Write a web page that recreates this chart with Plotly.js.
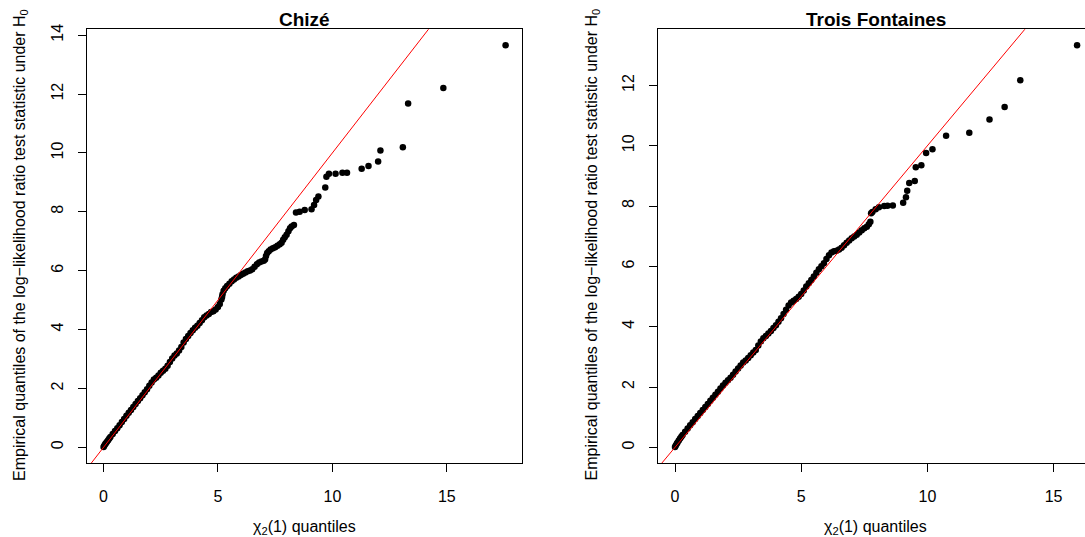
<!DOCTYPE html>
<html>
<head>
<meta charset="utf-8">
<script src="https://cdn.plot.ly/plotly-3.0.1.min.js"></script>
<style>
  html, body { margin: 0; padding: 0; background: #ffffff; overflow: hidden; }
  #chart { width: 1085px; height: 537px; }
</style>
</head>
<body>
<div id="chart"></div>
<script>
// ---------- data ----------
const panelTitles = ["Chizé", "Trois Fontaines"];
const xAxisTitle = "χ<sub>2</sub>(1) quantiles";
const yAxisTitle = "Empirical quantiles of the log−likelihood ratio test statistic under H<sub>0</sub>";
const xTickVals = [0, 5, 10, 15];
const yTickValsChize = [0, 2, 4, 6, 8, 10, 12, 14];
const yTickValsTrois = [0, 2, 4, 6, 8, 10, 12];
const identityLine = [-1, 20];

// Chizé: theoretical chi2(1) quantiles vs empirical quantiles
const chizeTheoretical = [
  0.00,0.03,0.07,0.10,0.15,0.20,0.25,0.30,
  0.40,0.50,0.60,0.70,0.80,0.90,1.00,1.10,1.20,1.30,1.40,1.50,1.60,1.70,1.80,1.90,
  2.00,2.10,2.20,2.30,2.40,2.50,2.60,2.70,2.80,2.90,3.00,3.10,3.20,3.30,3.40,3.50,
  3.60,3.70,3.80,3.90,4.00,4.10,4.20,4.30,4.40,4.50,4.60,4.70,4.80,4.90,5.00,
  5.08,5.15,5.18,5.20,5.25,5.32,
  5.40,5.50,5.60,5.70,5.80,5.90,6.00,6.10,6.20,6.30,6.40,6.50,6.60,6.70,6.80,6.90,7.00,
  7.06,7.10,7.15,7.22,
  7.30,7.40,7.50,7.60,7.70,
  7.78,7.85,7.92,8.00,8.08,8.15,8.22,8.32,
  8.41,8.57,8.79,9.09,9.20,9.29,9.39,9.69,9.74,9.85,10.14,10.44,10.64,11.28,11.58,12.00,12.10,13.08,13.31,14.85,17.57
];
const chizeEmpirical = [
  0.01,0.05,0.10,0.14,0.19,0.24,0.30,0.35,
  0.45,0.55,0.65,0.75,0.86,0.96,1.07,1.17,1.27,1.37,1.47,1.57,1.67,1.77,1.87,1.97,
  2.09,2.20,2.30,2.36,2.44,2.53,2.60,2.67,2.77,2.90,3.02,3.12,3.19,3.29,3.41,3.56,
  3.68,3.78,3.88,3.98,4.06,4.13,4.22,4.32,4.42,4.48,4.53,4.60,4.62,4.68,4.77,
  4.87,5.02,5.11,5.20,5.32,5.40,
  5.48,5.56,5.64,5.70,5.76,5.80,5.85,5.90,5.94,5.98,6.01,6.05,6.13,6.22,6.28,6.31,6.34,
  6.38,6.50,6.60,6.66,
  6.72,6.76,6.80,6.85,6.90,
  6.95,7.05,7.14,7.22,7.34,7.44,7.50,7.55,
  7.98,8.00,8.06,8.09,8.23,8.40,8.52,8.83,9.19,9.29,9.29,9.33,9.33,9.46,9.56,9.71,10.08,10.19,11.68,12.21,13.66
];

// Trois Fontaines
const troisTheoretical = [
  0.00,0.03,0.07,0.10,0.15,0.20,0.25,0.30,
  0.40,0.50,0.60,0.70,0.80,0.90,1.00,1.10,1.20,1.30,1.40,1.50,1.60,1.70,1.80,1.90,
  2.00,2.10,2.20,2.30,2.40,2.50,2.60,2.70,2.80,2.90,3.00,3.10,3.20,3.30,3.40,3.50,
  3.60,3.70,3.80,3.90,4.00,4.10,4.20,4.30,4.40,4.50,4.60,4.70,4.80,4.90,5.00,
  5.10,5.20,5.30,5.40,5.50,5.60,5.70,5.80,5.90,6.00,6.10,6.20,6.30,6.40,6.50,
  6.60,6.70,6.80,6.90,7.00,7.10,7.20,7.30,7.40,7.50,7.60,
  7.68,7.74,
  7.77,7.82,7.95,8.08,8.29,8.42,8.63,9.04,9.15,9.20,9.28,9.50,9.54,9.76,9.95,10.20,10.74,11.66,12.46,13.06,13.68,15.93
];
const troisEmpirical = [
  0.01,0.06,0.12,0.16,0.23,0.29,0.35,0.41,
  0.52,0.62,0.73,0.83,0.94,1.04,1.14,1.24,1.34,1.44,1.54,1.64,1.74,1.84,1.95,2.05,
  2.14,2.22,2.31,2.41,2.51,2.61,2.71,2.81,2.88,2.96,3.05,3.14,3.23,3.38,3.51,3.62,
  3.69,3.77,3.86,3.96,4.05,4.16,4.28,4.42,4.56,4.70,4.80,4.86,4.92,4.99,5.08,
  5.20,5.33,5.44,5.55,5.66,5.79,5.90,6.00,6.10,6.24,6.37,6.46,6.50,6.52,6.56,
  6.62,6.70,6.78,6.86,6.93,6.99,7.05,7.12,7.20,7.26,7.31,
  7.40,7.48,
  7.76,7.80,7.89,7.96,8.00,8.01,8.02,8.11,8.29,8.51,8.76,8.83,9.29,9.35,9.76,9.88,10.33,10.43,10.87,11.28,12.17,13.33
];

// ---------- layout helpers (pixel geometry of the reference) ----------
const W = 1085, H = 537;
const fx = px => px / W;
const fy = py => 1 - py / H;
const FONT = "Liberation Sans, Arial, Helvetica, sans-serif";

const plotTop = 29.3, plotBottom = 463;
const leftPanel = { l: 87.3, r: 521.6 };
const rightPanel = { l: 658.3, r: 1085, center: 875.6 };

function xAxisCfg(domain, range, anchor) {
  return {
    domain: domain, range: range, anchor: anchor,
    tickmode: "array", tickvals: xTickVals,
    ticks: "outside", ticklen: 8, tickwidth: 1, tickcolor: "#000",
    showline: true, linecolor: "#000", linewidth: 1, mirror: true,
    showgrid: false, zeroline: false,
    tickfont: { family: FONT, size: 16, color: "#000" },
    ticklabelstandoff: 11,
    fixedrange: true
  };
}
function yAxisCfg(range, anchor, tickvals, mirror) {
  return {
    domain: [fy(plotBottom), fy(plotTop)], range: range, anchor: anchor,
    tickmode: "array", tickvals: tickvals,
    ticks: "outside", ticklen: 8, tickwidth: 1, tickcolor: "#000",
    tickangle: -90,
    showline: true, linecolor: "#000", linewidth: 1, mirror: mirror,
    showgrid: false, zeroline: false,
    tickfont: { family: FONT, size: 16, color: "#000" },
    ticklabelstandoff: 9,
    fixedrange: true
  };
}

const markerStyle = { color: "#000", size: 6.5, line: { width: 0 } };
const traces = [
  { type: "scatter", mode: "markers", x: chizeTheoretical, y: chizeEmpirical,
    xaxis: "x", yaxis: "y", marker: markerStyle, name: panelTitles[0], showlegend: false },
  { type: "scatter", mode: "lines", x: identityLine, y: identityLine,
    xaxis: "x", yaxis: "y", line: { color: "#ff0000", width: 1 }, showlegend: false },
  { type: "scatter", mode: "markers", x: troisTheoretical, y: troisEmpirical,
    xaxis: "x2", yaxis: "y2", marker: markerStyle, name: panelTitles[1], showlegend: false },
  { type: "scatter", mode: "lines", x: identityLine, y: identityLine,
    xaxis: "x2", yaxis: "y2", line: { color: "#ff0000", width: 1 }, showlegend: false }
];

function ann(text, px, py, size, angle) {
  return {
    text: text, xref: "paper", yref: "paper", x: fx(px), y: fy(py),
    xanchor: "center", yanchor: "middle", showarrow: false,
    textangle: angle || 0,
    font: { family: FONT, size: size, color: "#000" }
  };
}
const leftCenter = (leftPanel.l + leftPanel.r) / 2;

const layout = {
  width: W, height: H,
  margin: { l: 0, r: 0, t: 0, b: 0, pad: 0 },
  paper_bgcolor: "#ffffff", plot_bgcolor: "#ffffff",
  showlegend: false,
  xaxis: xAxisCfg([fx(leftPanel.l), fx(leftPanel.r)], [-0.71, 18.27], "y"),
  yaxis: yAxisCfg([-0.533, 14.2], "x", yTickValsChize, true),
  xaxis2: xAxisCfg([fx(rightPanel.l), 1], [-0.662, 16.244], "y2"),
  yaxis2: yAxisCfg([-0.52, 13.86], "x2", yTickValsTrois, false),
  annotations: [
    ann("<b>" + panelTitles[0] + "</b>", leftCenter, 19.5, 19),
    ann("<b>" + panelTitles[1] + "</b>", rightPanel.center, 19.5, 19),
    ann(xAxisTitle, leftCenter, 527, 16),
    ann(xAxisTitle, rightPanel.center, 527, 16),
    ann(yAxisTitle, 20, 245, 16, -90),
    ann(yAxisTitle, 591.5, 245, 16, -90)
  ]
};

Plotly.newPlot("chart", traces, layout, { staticPlot: true, displayModeBar: false, responsive: false });
</script>
</body>
</html>
